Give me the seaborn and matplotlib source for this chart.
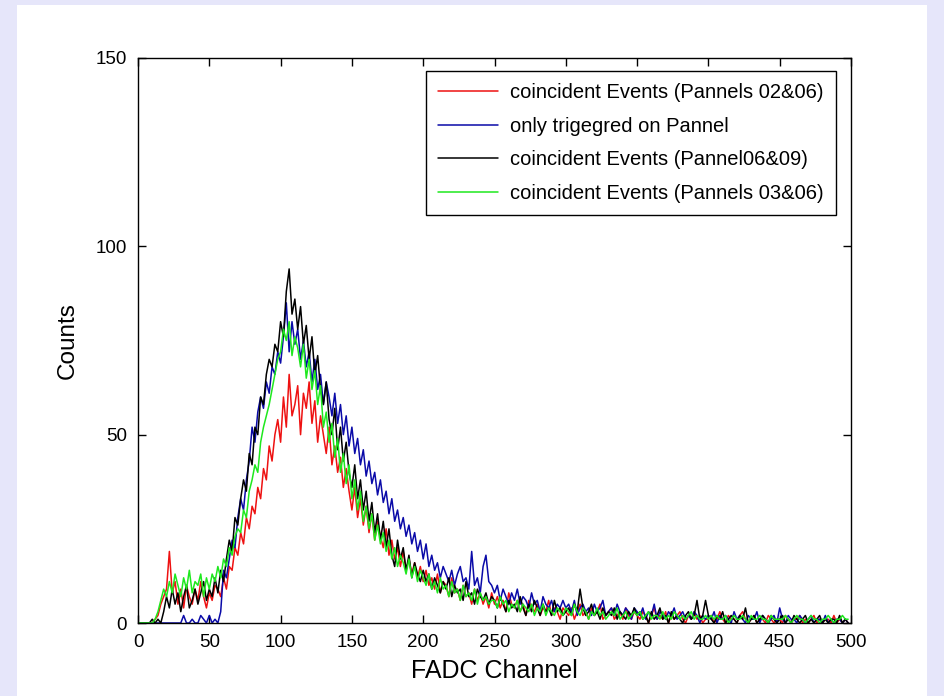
import numpy as np
import pandas as pd
import matplotlib
matplotlib.use("Agg")
import matplotlib.pyplot as plt
import seaborn as sns

sns.set_theme(style="ticks")
plt.rcParams["font.family"] = ["Liberation Sans", "DejaVu Sans"]
plt.rcParams["text.color"] = "black"
plt.rcParams["axes.labelcolor"] = "black"

# ---------------------------------------------------------
# Data: counts every 2nd FADC channel (0..498)
# ---------------------------------------------------------
channels = list(range(0, 500, 2))

red_0206 = [
    0, 0, 0, 0, 0, 0, 1, 2, 5, 7, 9, 19, 8, 11, 5, 9, 4, 10, 7, 5, 9, 6, 11, 7, 4,
    8, 6, 10, 9, 7, 12, 9, 15, 14, 20, 18, 24, 21, 28, 25, 31, 29, 36, 33, 41, 38, 47, 43, 50, 54,
    48, 60, 52, 66, 55, 58, 63, 50, 61, 57, 64, 53, 59, 48, 55, 50, 45, 52, 42, 47, 40, 44, 36, 41, 35,
    30, 36, 28, 33, 26, 31, 24, 29, 22, 27, 23, 20, 25, 18, 22, 17, 20, 15, 19, 14, 17, 13, 16, 12, 15,
    11, 14, 10, 12, 9, 13, 8, 11, 10, 7, 12, 8, 9, 6, 10, 7, 8, 5, 9, 6, 8, 5, 7, 4, 8,
    5, 7, 4, 6, 3, 8, 5, 4, 6, 3, 5, 2, 6, 4, 3, 5, 2, 4, 3, 6, 2, 4, 3, 1, 4,
    3, 2, 4, 1, 3, 5, 2, 3, 1, 4, 2, 3, 5, 1, 2, 3, 4, 1, 2, 3, 1, 4, 2, 1, 3,
    2, 1, 3, 2, 0, 2, 4, 1, 2, 1, 3, 0, 2, 1, 2, 3, 1, 0, 2, 1, 3, 1, 2, 0, 1,
    1, 2, 0, 1, 3, 1, 0, 2, 1, 1, 0, 2, 3, 1, 0, 1, 2, 0, 1, 1, 0, 2, 1, 0, 1,
    1, 0, 2, 1, 0, 1, 1, 2, 0, 1, 0, 1, 2, 0, 1, 0, 1, 1, 0, 2, 0, 1, 0, 1, 0,
]

blue_only = [
    0, 0, 0, 0, 0, 0, 0, 0, 0, 0, 0, 0, 0, 0, 0, 0, 2, 0, 0, 1, 0, 0, 2, 1, 0,
    2, 0, 1, 0, 3, 14, 12, 17, 22, 20, 28, 33, 30, 38, 43, 52, 48, 56, 60, 57, 64, 61, 68, 66, 72,
    69, 76, 85, 72, 80, 74, 78, 70, 75, 68, 72, 64, 70, 62, 66, 58, 64, 60, 55, 61, 53, 58, 50, 55, 47,
    52, 45, 49, 42, 46, 39, 43, 37, 40, 34, 38, 32, 35, 29, 33, 27, 30, 25, 28, 23, 26, 21, 24, 19, 22,
    17, 21, 15, 18, 14, 16, 12, 15, 13, 11, 14, 10, 13, 15, 11, 12, 9, 19, 10, 12, 8, 15, 18, 11, 10,
    8, 10, 6, 9, 7, 5, 8, 6, 9, 5, 7, 6, 4, 8, 5, 6, 3, 7, 5, 4, 6, 3, 5, 4, 6,
    4, 5, 3, 6, 2, 4, 5, 3, 4, 2, 5, 3, 4, 6, 2, 3, 4, 2, 5, 3, 2, 4, 3, 1, 4,
    3, 2, 4, 1, 3, 2, 5, 1, 3, 2, 1, 3, 2, 4, 1, 2, 3, 1, 2, 1, 3, 2, 0, 2, 1,
    2, 1, 3, 0, 2, 1, 2, 1, 0, 3, 1, 2, 1, 0, 2, 1, 1, 3, 0, 2, 1, 0, 1, 2, 0,
    4, 1, 0, 2, 1, 1, 0, 2, 1, 0, 1, 2, 0, 1, 1, 0, 2, 0, 1, 0, 1, 1, 0, 1, 0,
]

black_0609 = [
    0, 0, 0, 0, 0, 1, 0, 1, 0, 3, 7, 4, 9, 5, 8, 3, 7, 10, 4, 6, 9, 5, 8, 11, 6,
    9, 7, 12, 8, 14, 11, 17, 22, 19, 28, 26, 33, 38, 35, 45, 42, 52, 50, 60, 58, 66, 70, 68, 74, 72,
    80, 76, 88, 94, 82, 86, 78, 84, 74, 79, 70, 76, 66, 71, 62, 58, 64, 54, 50, 57, 46, 52, 43, 48, 40,
    36, 42, 33, 38, 30, 35, 27, 32, 24, 29, 22, 27, 20, 25, 18, 15, 22, 17, 20, 14, 18, 12, 16, 13, 11,
    14, 11, 13, 9, 12, 10, 8, 11, 9, 12, 7, 10, 8, 9, 6, 11, 7, 8, 5, 9, 7, 6, 8, 5, 7,
    6, 4, 7, 5, 3, 6, 4, 5, 3, 7, 4, 2, 5, 3, 6, 4, 2, 5, 3, 4, 2, 6, 3, 4, 2,
    3, 4, 2, 5, 3, 9, 4, 2, 3, 5, 2, 3, 1, 4, 2, 3, 2, 4, 1, 3, 2, 1, 3, 2, 4,
    2, 3, 1, 2, 0, 3, 1, 2, 4, 1, 2, 0, 3, 1, 2, 1, 0, 2, 3, 1, 2, 6, 1, 2, 6,
    2, 1, 0, 2, 1, 3, 0, 1, 2, 1, 0, 2, 1, 4, 0, 1, 2, 0, 1, 2, 1, 0, 2, 1, 0,
    1, 2, 0, 1, 0, 2, 1, 0, 1, 2, 0, 1, 0, 1, 2, 0, 1, 0, 1, 1, 0, 2, 0, 1, 0,
]

green_0306 = [
    0, 0, 0, 0, 0, 0, 1, 3, 6, 9, 7, 11, 8, 13, 10, 7, 12, 9, 14, 8, 11, 10, 13, 7, 12,
    9, 13, 11, 15, 12, 17, 15, 20, 18, 23, 25, 24, 30, 28, 35, 38, 42, 40, 48, 52, 55, 58, 62, 66, 70,
    72, 78, 75, 80, 71, 76, 73, 68, 74, 65, 70, 62, 67, 58, 63, 52, 56, 48, 53, 44, 49, 40, 45, 37, 42,
    33, 38, 30, 35, 27, 31, 25, 29, 22, 26, 21, 24, 19, 22, 17, 20, 15, 18, 16, 13, 17, 12, 15, 11, 14,
    12, 10, 13, 9, 11, 8, 12, 9, 10, 7, 11, 8, 9, 6, 10, 7, 8, 6, 9, 5, 8, 6, 7, 5, 6,
    6, 4, 7, 5, 6, 3, 5, 4, 6, 3, 5, 4, 3, 5, 2, 4, 3, 5, 2, 4, 3, 2, 4, 3, 2,
    4, 3, 2, 5, 3, 2, 4, 3, 1, 3, 2, 4, 2, 3, 1, 2, 3, 2, 4, 1, 2, 3, 1, 2, 3,
    2, 3, 1, 2, 3, 1, 2, 2, 1, 3, 1, 2, 1, 3, 2, 1, 2, 1, 2, 3, 1, 2, 1, 1, 2,
    1, 2, 1, 2, 1, 1, 2, 0, 1, 2, 1, 1, 2, 1, 0, 2, 1, 1, 2, 1, 1, 0, 2, 1, 1,
    1, 1, 2, 1, 0, 1, 2, 1, 1, 0, 1, 2, 1, 1, 0, 1, 1, 2, 1, 0, 1, 1, 2, 1, 1,
]

labels = [
    "coincident Events (Pannels 02&06)",
    "only trigegred on Pannel",
    "coincident Events (Pannel06&09)",
    "coincident Events (Pannels 03&06)",
]
colors = ["#EE1111", "#0A0AA8", "#000000", "#1EE81E"]
series = [red_0206, blue_only, black_0609, green_0306]

# ---------------------------------------------------------
# Figure: lavender frame with a white panel, MATLAB-like box axes
# ---------------------------------------------------------
fig = plt.figure(figsize=(9.44, 6.96), dpi=100, facecolor="#E6E6FA")
panel = plt.Rectangle((17 / 944, 0), 910 / 944, 691 / 696,
                      transform=fig.transFigure, facecolor="white",
                      edgecolor="none", zorder=-10)
fig.add_artist(panel)
ax = fig.add_axes([138 / 944, 73 / 696, 713 / 944, 565 / 696])
ax.set_zorder(1)
ax.set_facecolor("white")

for vals, lab, col in zip(series, labels, colors):
    sns.lineplot(x=channels, y=vals, color=col, label=lab, linewidth=1.1,
                 estimator=None, sort=False, ax=ax)

ax.set_xlim(0, 500)
ax.set_ylim(0, 150)
ax.set_xticks(range(0, 501, 50))
ax.set_yticks([0, 50, 100, 150])
ax.tick_params(direction="in", length=6, width=1, top=True, right=True,
               labelsize=13.5, pad=8, colors="black")
for s in ax.spines.values():
    s.set_visible(True)
    s.set_color("black")
    s.set_linewidth(1.0)

ax.set_xlabel("FADC Channel", fontsize=18, labelpad=6)
ax.set_ylabel("Counts", fontsize=17.5, labelpad=12)

leg = ax.legend(loc="upper right", bbox_to_anchor=(0.979, 0.977), fontsize=14.5,
                frameon=True, fancybox=False, edgecolor="black", framealpha=1,
                handlelength=3.0, handletextpad=0.6, borderpad=0.6,
                labelspacing=0.72, borderaxespad=0)
leg.get_frame().set_linewidth(1.0)

fig.savefig("out.png", dpi=100, facecolor=fig.get_facecolor())
